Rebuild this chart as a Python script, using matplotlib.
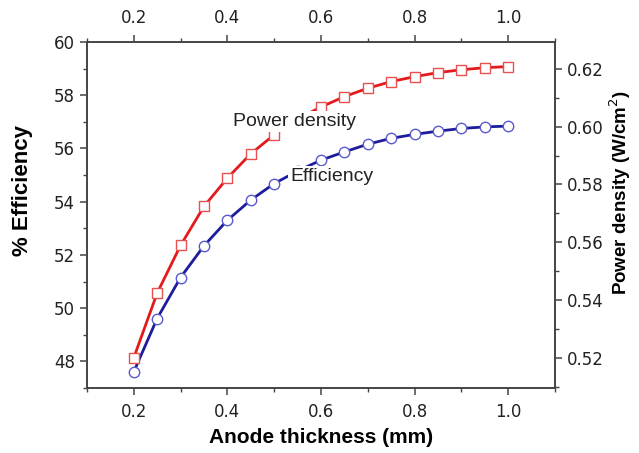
import matplotlib
matplotlib.use("Agg")
import matplotlib.pyplot as plt
from matplotlib.ticker import MultipleLocator

thickness = [0.20, 0.25, 0.30, 0.35, 0.40, 0.45, 0.50, 0.55, 0.60,
             0.65, 0.70, 0.75, 0.80, 0.85, 0.90, 0.95, 1.00]
efficiency = [47.60, 49.61, 51.15, 52.34, 53.30, 54.06, 54.68, 55.15, 55.56,
              55.87, 56.16, 56.38, 56.53, 56.65, 56.75, 56.81, 56.84]
power_density = [0.5200, 0.5424, 0.5589, 0.5724, 0.5822, 0.5906, 0.5972, 0.6027, 0.6068,
                 0.6104, 0.6133, 0.6156, 0.6173, 0.6187, 0.6197, 0.6204, 0.6208]

red = "#e3191c"
blue = "#1c1c9c"
spine = "#444444"

plt.rcParams["font.family"] = "DejaVu Sans"

fig = plt.figure(figsize=(6.39, 4.53), dpi=100)
ax = fig.add_axes([0.136, 0.1435, 0.7325, 0.7638])
ax2 = ax.twinx()

ax.plot(thickness, efficiency, color=blue, linewidth=2, marker="o", markersize=7.5,
        markerfacecolor="white", markeredgecolor="#5a5ad0", markeredgewidth=1.0, zorder=3)
ax2.plot(thickness, power_density, color=red, linewidth=2, marker="s", markersize=7,
         markerfacecolor="white", markeredgecolor="#e85050", markeredgewidth=1.0, zorder=3)

ax.set_xlim(0.1, 1.1)
ax.set_ylim(47, 60)
ax2.set_ylim(0.5096, 0.6293)

ax.xaxis.set_minor_locator(MultipleLocator(0.1))
ax.yaxis.set_minor_locator(MultipleLocator(1))
ax2.yaxis.set_minor_locator(MultipleLocator(0.01))
ax.set_xticks([0.2, 0.4, 0.6, 0.8, 1.0])
ax.set_xticklabels(["0.2", "0.4", "0.6", "0.8", "1.0"])
ax.set_yticks([48, 50, 52, 54, 56, 58, 60])
ax2.set_yticks([0.52, 0.54, 0.56, 0.58, 0.60, 0.62])
ax2.set_yticklabels(["0.52", "0.54", "0.56", "0.58", "0.60", "0.62"])

for a in (ax, ax2):
    for s in a.spines.values():
        s.set_color(spine)
        s.set_linewidth(1.2)

ax.tick_params(axis="both", which="both", direction="out", colors=spine,
               labelcolor="#222222", labelsize=12, top=True, labeltop=True,
               right=False)
ax.tick_params(axis="x", which="major", pad=6)
ax.tick_params(which="major", length=5, width=1.1)
ax.tick_params(which="minor", length=3, width=1.0)
ax2.tick_params(axis="y", which="both", direction="out", colors=spine,
                labelcolor="#222222", labelsize=12)
ax2.tick_params(which="major", length=5, width=1.1)
ax2.tick_params(which="minor", length=3, width=1.0)

ax.set_xlabel("Anode thickness (mm)", fontsize=15, fontweight="bold",
              family="Liberation Sans", labelpad=5)
ax.set_ylabel("% Efficiency", fontsize=16, fontweight="bold",
              family="Liberation Sans")
ax2.set_ylabel("Power density (W/cm$^2$)", fontsize=13.5, fontweight="bold",
               family="Liberation Sans")
ax.yaxis.set_label_coords(-0.115, 0.572)
ax2.yaxis.set_label_coords(1.113, 0.564)

box = dict(facecolor="white", edgecolor="none", pad=1.5)
ax2.text(0.412, 0.6017, "Power density", fontsize=14, family="Liberation Sans",
         color="#222222", va="center", ha="left", bbox=box, zorder=5)
ax2.text(0.534, 0.5826, "Efficiency", fontsize=14, family="Liberation Sans",
         color="#222222", va="center", ha="left", bbox=box, zorder=5)

fig.savefig("out.png", dpi=100)
